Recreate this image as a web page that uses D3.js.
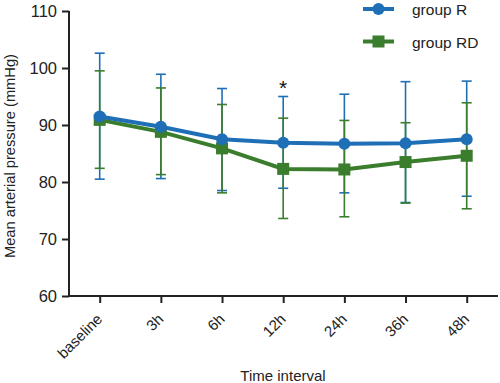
<!DOCTYPE html>
<html>
<head>
<meta charset="utf-8">
<script src="https://cdn.jsdelivr.net/npm/d3@7"></script>
<style>
  body { margin: 0; background: #fff; }
  svg { font-family: "Liberation Sans", Arial, sans-serif; }
</style>
</head>
<body>
<div id="chart"></div>
<script>
// categories and values
let timePoints = ["baseline", "3h", "6h", "12h", "24h", "36h", "48h"];

let groupR = [91.5, 89.7, 87.5, 86.9, 86.7, 86.8, 87.5];
let groupRUpper = [102.6, 98.9, 96.4, 95.0, 95.4, 97.6, 97.7];
let groupRLower = [80.5, 80.6, 78.5, 78.9, 78.1, 76.4, 77.5];

let groupRD = [90.9, 88.8, 85.9, 82.3, 82.2, 83.5, 84.6];
let groupRDUpper = [99.5, 96.5, 93.6, 91.2, 90.8, 90.4, 93.9];
let groupRDLower = [82.4, 81.3, 78.1, 73.6, 73.9, 76.3, 75.3];

let yTicks = [60, 70, 80, 90, 100, 110];
let significant = ["12h"];

let svgWidth = 500;
let svgHeight = 383;

let margin = { top: 11, right: 2, bottom: 87, left: 69 };
let width = svgWidth - margin.left - margin.right;
let height = svgHeight - margin.top - margin.bottom;

let svg = d3.select("#chart")
  .append("svg")
  .attr("width", svgWidth)
  .attr("height", svgHeight);

let chartGroup = svg.append("g")
  .attr("transform", `translate(${margin.left}, ${margin.top})`);

// scales
let x = d3.scalePoint()
  .domain(timePoints)
  .range([30.7, 397.7]);

let y = d3.scaleLinear()
  .domain([60, 110])
  .range([height, 0]);

// axes
let leftAxis = d3.axisLeft(y).tickValues(yTicks).tickSize(7).tickPadding(5);
let bottomAxis = d3.axisBottom(x).tickSize(7).tickPadding(4);

let yAxisG = chartGroup.append("g").call(leftAxis);
yAxisG.selectAll("text").attr("font-size", 16.5).attr("fill", "#222");

let xAxisG = chartGroup.append("g")
  .attr("transform", `translate(0, ${height})`)
  .call(bottomAxis);
xAxisG.selectAll("text")
  .attr("font-size", 15)
  .attr("fill", "#222")
  .attr("text-anchor", "end")
  .attr("x", 0)
  .attr("y", 0)
  .attr("dy", 0)
  .attr("transform", "translate(3, 24) rotate(-45)");

// x axis domain runs past the last category
xAxisG.select(".domain").attr("d", `M0,0H${width}`);
yAxisG.select(".domain").attr("d", `M0,${height}V0`);

[yAxisG, xAxisG].forEach(g => {
  g.select(".domain").attr("stroke", "#222").attr("stroke-width", 2);
  g.selectAll(".tick line").attr("stroke", "#222").attr("stroke-width", 2);
});

let blue = "#1f6fb6";
let green = "#3a7d2c";

function drawErrorBars(means, upper, lower, color) {
  let rows = timePoints.map((t, i) => ({ t: t, hi: upper[i], lo: lower[i] }));
  let g = chartGroup.append("g");
  g.selectAll("line.v").data(rows).enter().append("line")
    .attr("x1", d => x(d.t)).attr("x2", d => x(d.t))
    .attr("y1", d => y(d.hi)).attr("y2", d => y(d.lo))
    .attr("stroke", color).attr("stroke-width", 1.6);
  ["hi", "lo"].forEach(k => {
    g.selectAll("line.c" + k).data(rows).enter().append("line")
      .attr("x1", d => x(d.t) - 5).attr("x2", d => x(d.t) + 5)
      .attr("y1", d => y(d[k])).attr("y2", d => y(d[k]))
      .attr("stroke", color).attr("stroke-width", 1.6);
  });
}

drawErrorBars(groupR, groupRUpper, groupRLower, blue);
drawErrorBars(groupRD, groupRDUpper, groupRDLower, green);

let line = d3.line()
  .x(d => x(d.t))
  .y(d => y(d.v));

// group RD line + squares
let rdRows = timePoints.map((t, i) => ({ t: t, v: groupRD[i] }));
chartGroup.append("path")
  .datum(rdRows)
  .attr("d", line)
  .attr("fill", "none")
  .attr("stroke", green)
  .attr("stroke-width", 4);
chartGroup.selectAll("rect.rd").data(rdRows).enter().append("rect")
  .attr("x", d => x(d.t) - 6).attr("y", d => y(d.v) - 6)
  .attr("width", 12).attr("height", 12)
  .attr("fill", green);

// group R line + circles
let rRows = timePoints.map((t, i) => ({ t: t, v: groupR[i] }));
chartGroup.append("path")
  .datum(rRows)
  .attr("d", line)
  .attr("fill", "none")
  .attr("stroke", blue)
  .attr("stroke-width", 4);
chartGroup.selectAll("circle.r").data(rRows).enter().append("circle")
  .attr("cx", d => x(d.t)).attr("cy", d => y(d.v))
  .attr("r", 6)
  .attr("fill", blue);

// significance marker
chartGroup.selectAll("text.sig").data(significant).enter().append("text")
  .attr("x", d => x(d))
  .attr("y", d => y(groupRUpper[timePoints.indexOf(d)]) - 2)
  .attr("text-anchor", "middle")
  .attr("font-size", 21)
  .attr("fill", "#111")
  .text("*");

// legend
let legend = svg.append("g").attr("transform", "translate(363, 9)");
legend.append("line").attr("x1", 0).attr("x2", 31).attr("y1", 0).attr("y2", 0)
  .attr("stroke", blue).attr("stroke-width", 4);
legend.append("circle").attr("cx", 15.5).attr("cy", 0).attr("r", 6).attr("fill", blue);
legend.append("text").attr("x", 49).attr("y", 6).attr("font-size", 15.5).attr("fill", "#222").text("group R");

legend.append("line").attr("x1", 0).attr("x2", 31).attr("y1", 32.5).attr("y2", 32.5)
  .attr("stroke", green).attr("stroke-width", 4);
legend.append("rect").attr("x", 9.5).attr("y", 26.5).attr("width", 12).attr("height", 12).attr("fill", green);
legend.append("text").attr("x", 49).attr("y", 38.5).attr("font-size", 15.5).attr("fill", "#222").text("group RD");

// axis titles
svg.append("text")
  .attr("transform", "rotate(-90)")
  .attr("x", -156)
  .attr("y", 15)
  .attr("text-anchor", "middle")
  .attr("font-size", 14.7)
  .attr("fill", "#222")
  .text("Mean arterial pressure (mmHg)");

svg.append("text")
  .attr("x", 283)
  .attr("y", 381)
  .attr("text-anchor", "middle")
  .attr("font-size", 15)
  .attr("fill", "#222")
  .text("Time interval");
</script>
</body>
</html>
